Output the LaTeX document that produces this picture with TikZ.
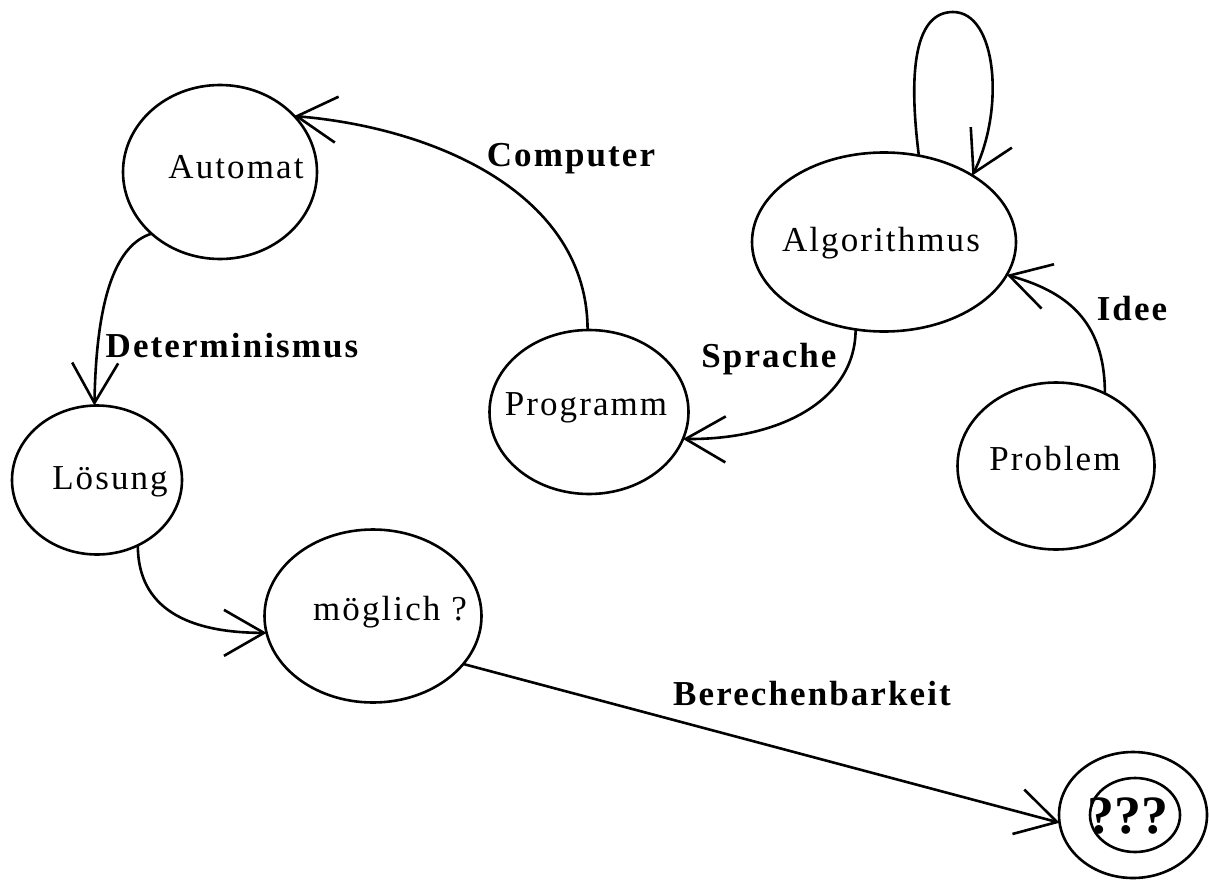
\documentclass[tikz,border=0pt]{standalone}
\usepackage{fontspec}
\setmainfont{Liberation Serif}
\newfontfamily\spacedfont[LetterSpace=6]{Liberation Serif}
\usetikzlibrary{arrows.meta,shapes.geometric}
\begin{document}
\begin{tikzpicture}[x=1pt,y=-1pt,
  state/.style={draw, ellipse, line width=2.6pt, inner sep=0pt, outer sep=0pt},
  nodetext/.style={font=\spacedfont\fontsize{35}{42}\selectfont, anchor=base, inner sep=0pt},
  edgelabel/.style={font=\spacedfont\bfseries\fontsize{35}{42}\selectfont, anchor=base, inner sep=0pt},
  conn/.style={line width=2.6pt, -{Straight Barb[length=40pt,width=46pt]}}
]
\fill[white] (0,0) rectangle (1209,880);
\useasboundingbox (0,0) rectangle (1209,880);

% states
\node[state, minimum width=194pt, minimum height=174pt] (automat) at (220,172) {};
\node[nodetext] (automatT) at (236,178) {Automat};
\node[state, minimum width=170pt, minimum height=149pt] (loesung) at (97,480) {};
\node[nodetext] (loesungT) at (110,489) {Lösung};
\node[state, minimum width=217pt, minimum height=173pt] (moeglich) at (373,616) {};
\node[nodetext] (moeglichT) at (390,620) {möglich ?};
\node[state, minimum width=199pt, minimum height=164pt] (programm) at (589,412) {};
\node[nodetext] (programmT) at (586,415) {Programm};
\node[state, minimum width=264pt, minimum height=179pt] (algo) at (884,242) {};
\node[nodetext] (algoT) at (881,251) {Algorithmus};
\node[state, minimum width=197pt, minimum height=167pt] (problem) at (1056,466) {};
\node[nodetext] (problemT) at (1055,470) {Problem};
\node[state, minimum width=148pt, minimum height=126pt] (qqq) at (1133,815) {};
\node[state, minimum width=90pt, minimum height=74pt] (qqqin) at (1135,815) {};
\node[font=\bfseries\fontsize{54}{60}\selectfont, anchor=base, inner sep=0pt] (qqqT) at (1128,833) {???};

% connectors
\draw[conn] (programm.91) .. controls +(0,-135) and +(143,12) .. (automat.37);
\draw[conn] (automat.222) .. controls +(-35,11) and +(2,-110) .. (loesung.92);
\draw[conn] (loesung.-58) .. controls +(0,63) and +(-79,0) .. (moeglich.189);
\draw[conn] (moeglich.-28) -- (qqq.186);
\draw[conn] (algo.-108) .. controls +(0,70) and +(98,1) .. (programm.-16);
\draw[conn] (problem.56) .. controls +(0,-75) and +(57,16) .. (algo.-15);
\draw[conn] (algo.68) .. controls (908,70) and (915,12) .. (953,12)
             .. controls (997,12) and (1005,110) .. (algo.37);

% labels
\node[edgelabel] (lComputer) at (571,166) {Computer};
\node[edgelabel] (lDet) at (232,357) {Determinismus};
\node[edgelabel] (lSprache) at (769,367) {Sprache};
\node[edgelabel] (lIdee) at (1132,320) {Idee};
\node[edgelabel] (lBer) at (812,705) {Berechenbarkeit};
\end{tikzpicture}
\end{document}
